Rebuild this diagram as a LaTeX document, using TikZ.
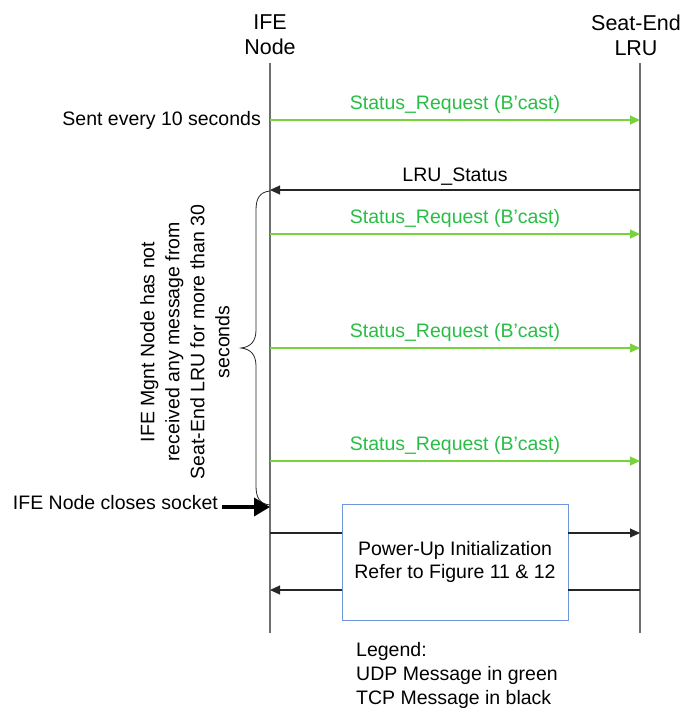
\documentclass[tikz,border=0pt]{standalone}
\usepackage{fontspec}
\setmainfont{Liberation Sans}
\usetikzlibrary{arrows.meta}
\definecolor{udptext}{RGB}{40,190,70}
\definecolor{udpline}{RGB}{120,210,60}
\definecolor{lifegray}{RGB}{110,110,110}
\definecolor{boxblue}{RGB}{110,150,220}
\tikzset{
  lbl/.style={font=\fontsize{19.5}{24}\selectfont, inner sep=0pt},
  hdr/.style={font=\fontsize{21.5}{25}\selectfont, align=center, inner sep=0pt},
  life/.style={draw=lifegray, line width=1.4pt},
  udp/.style={draw=udpline, line width=1.2pt, -{Triangle[length=10pt,width=9pt]}},
  tcp/.style={draw=black!85, line width=1.1pt, -{Triangle[length=10pt,width=9pt]}},
  tcpplain/.style={draw=black!85, line width=1.1pt},
  udplbl/.style={lbl, text=udptext},
  initbox/.style={draw=boxblue, line width=0.9pt, fill=white, minimum width=226pt, minimum height=116pt, align=center, font=\fontsize{19.5}{23.5}\selectfont}
}
\begin{document}
\begin{tikzpicture}[x=1pt,y=-1pt]
\useasboundingbox (0,0) rectangle (691,710);
% headers
\node[hdr] (hA) at (270,35) {IFE\\Node};
\node[hdr] (hB) at (636,35) {Seat-End\\LRU};
% lifelines
\coordinate (aT) at (270,63); \coordinate (aB) at (270,633);
\coordinate (bT) at (640,63); \coordinate (bB) at (640,633);
\draw[life] (aT) -- (aB);
\draw[life] (bT) -- (bB);
% message endpoints
\foreach \n/\y in {m1/120,m2/190,m3/234,m4/348,m5/461,m6/533,m7/590}{
  \coordinate (\n a) at (270,\y);
  \coordinate (\n b) at (640,\y);
}
% messages
\draw[udp] (m1a) -- (m1b) node[udplbl, midway, above=6pt] (l1) {Status\_Request (B’cast)};
\node[lbl, anchor=east] (sent) at (261,120) {Sent every 10 seconds};
\draw[tcp] (m2b) -- (m2a) node[lbl, midway, above=4pt] (l2) {LRU\_Status};
\draw[udp] (m3a) -- (m3b) node[udplbl, midway, above=6pt] (l3) {Status\_Request (B’cast)};
\draw[udp] (m4a) -- (m4b) node[udplbl, midway, above=6pt] (l4) {Status\_Request (B’cast)};
\draw[udp] (m5a) -- (m5b) node[udplbl, midway, above=6pt] (l5) {Status\_Request (B’cast)};
% brace
\draw[black!85, line width=0.8pt] (270,191) .. controls (260,192) and (256,198) .. (256,210)
  -- (256,330) .. controls (256,342) and (250,347) .. (241,348)
  .. controls (250,349) and (256,354) .. (256,366)
  -- (256,486) .. controls (256,498) and (260,504) .. (270,505);
\node[lbl, align=center, rotate=90, font=\fontsize{19.5}{25}\selectfont] (note) at (185,342)
  {IFE Mgnt Node has not\\received any message from\\Seat-End LRU for more than 30\\seconds};
% closes socket
\node[lbl, anchor=east] (close) at (218,503) {IFE Node closes socket};
\coordinate (cs) at (222,507);
\coordinate (ce) at (270,507);
\draw[line width=3.5pt, -{Triangle[length=16pt,width=18pt]}] (cs) -- (ce);
% init box
\node[initbox] (box) at (455,562) {Power-Up Initialization\\Refer to Figure 11 \& 12};
\draw[tcpplain] (m6a) -- (box.west |- m6a);
\draw[tcp] (box.east |- m6b) -- (m6b);
\draw[tcp] (box.west |- m7a) -- (m7a);
\draw[tcpplain] (m7b) -- (box.east |- m7b);
% legend
\node[lbl, anchor=north west, align=left] (legend) at (356,642)
  {Legend:\\UDP Message in green\\TCP Message in black};
\end{tikzpicture}
\end{document}
